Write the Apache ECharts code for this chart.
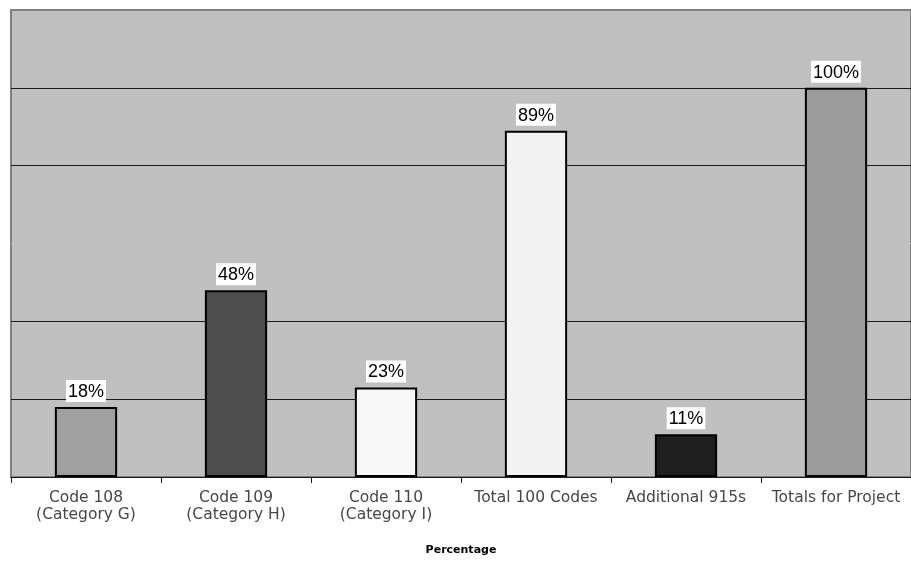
<!DOCTYPE html>
<html>
<head>
<meta charset="utf-8">
<style>
  html, body { margin: 0; padding: 0; background: #ffffff; }
  #chart { width: 911px; height: 561px; }
</style>
<script src="https://cdn.jsdelivr.net/npm/echarts@6/dist/echarts.min.js"></script>
</head>
<body>
<div id="chart"></div>
<script>
// Category labels along the x axis
const categories = [
  'Code 108\n(Category G)',
  'Code 109\n(Category H)',
  'Code 110\n(Category I)',
  'Total 100 Codes',
  'Additional 915s',
  'Totals for Project'
];
// Percentage per category
const percentages = [18, 48, 23, 89, 11, 100];
// Fill shade of each bar
const barFills = ['#a0a0a0', '#4d4d4d', '#f8f8f8', '#f2f2f2', '#1e1e1e', '#9c9c9c'];

const chart = echarts.init(document.getElementById('chart'), null, { renderer: 'canvas' });

chart.setOption({
  animation: false,
  backgroundColor: '#ffffff',
  textStyle: { fontFamily: 'Liberation Sans, Arial, sans-serif' },
  grid: {
    left: 11, right: -3, top: 10, bottom: 84,
    show: true,
    backgroundColor: '#c0c0c0',
    borderColor: '#808080',
    borderWidth: 2
  },
  xAxis: {
    type: 'category',
    data: categories,
    boundaryGap: true,
    name: 'Percentage',
    nameLocation: 'middle',
    nameGap: 68,
    nameTextStyle: { fontFamily: 'DejaVu Sans, sans-serif', fontSize: 11, fontWeight: 'bold', color: '#000000' },
    axisLine: { show: true, lineStyle: { color: '#1a1a1a', width: 1 } },
    axisTick: { show: true, alignWithLabel: false, length: 6, lineStyle: { color: '#1a1a1a' } },
    axisLabel: {
      fontFamily: 'DejaVu Sans, sans-serif',
      fontSize: 15.5,
      color: '#474747',
      lineHeight: 17,
      margin: 12,
      interval: 0
    }
  },
  yAxis: {
    type: 'value',
    min: 0,
    max: 120,
    interval: 20,
    axisLine: { show: false },
    axisTick: { show: false },
    axisLabel: { show: false },
    splitLine: {
      show: true,
      lineStyle: {
        width: 1,
        // lines at 0, 20, 40, 60, 80, 100, 120 — the 60 line blends into the plot fill
        color: ['#1a1a1a', '#1a1a1a', '#1a1a1a', '#c0c0c0', '#1a1a1a', '#1a1a1a', '#808080']
      }
    }
  },
  series: [{
    type: 'bar',
    barWidth: '41.5%',
    data: percentages.map((v, i) => ({
      value: v,
      itemStyle: { color: barFills[i], borderColor: '#000000', borderWidth: 2 }
    })),
    label: {
      show: true,
      position: 'top',
      distance: 5,
      formatter: '{c}%',
      fontSize: 18,
      color: '#000000',
      backgroundColor: '#ffffff',
      padding: [3, 2, 1, 2]
    }
  }]
});
</script>
</body>
</html>
